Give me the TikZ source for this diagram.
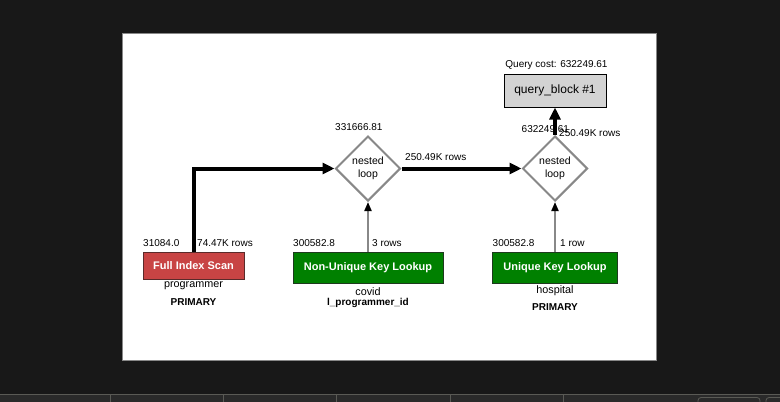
\documentclass[tikz,border=0pt]{standalone}
\usepackage{fontspec}
\setmainfont{Liberation Sans}
\usetikzlibrary{shapes.geometric,arrows.meta}
\definecolor{bgdark}{HTML}{181818}
\definecolor{stripc}{HTML}{2A2A2A}
\definecolor{stripl}{HTML}{5A5A55}
\definecolor{redbox}{HTML}{C84444}
\definecolor{redline}{HTML}{5A2A2A}
\definecolor{greenbox}{HTML}{008000}
\definecolor{greenline}{HTML}{1E3A1E}
\definecolor{qbox}{HTML}{D3D3D3}
\definecolor{loopc}{HTML}{888888}
\tikzset{
  lbl/.style={inner sep=0pt, font=\fontsize{10}{12}\selectfont},
  tbl/.style={inner sep=0pt, font=\fontsize{10.8}{13}\selectfont},
  keyl/.style={inner sep=0pt, font=\fontsize{10}{12}\selectfont\bfseries},
  opbox/.style={draw, line width=1pt, inner sep=0pt, text=white, font=\fontsize{11}{13}\selectfont\bfseries},
  loopnode/.style={diamond, draw=loopc, line width=2pt, fill=white, minimum width=65pt, minimum height=65pt, inner sep=0pt, align=center, font=\fontsize{10.5}{12.5}\selectfont},
  thickarrow/.style={line width=4pt, -{Triangle[length=12pt,width=11pt]}},
  thinarrow/.style={draw=loopc, line width=2pt, -{Triangle[length=9pt,width=7pt,color=black]}}
}
\begin{document}
\begin{tikzpicture}[x=1pt,y=-1pt]
\useasboundingbox (0,0) rectangle (780,402);
\fill[bgdark] (0,0) rectangle (780,402);
% bottom strip
\fill[stripc] (0,394) rectangle (780,402);
\draw[stripl, line width=1pt] (0,394.5) -- (780,394.5);
\foreach \xx in {110.5,223.5,336.5,450.5,563.5}{\draw[stripl, line width=0.8pt] (\xx,394.5) -- (\xx,402);}
\draw[stripl, line width=0.8pt, rounded corners=3pt] (698,402.5) -- (698,397.5) -- (760,397.5) -- (760,402.5);
\draw[stripl, line width=0.8pt, rounded corners=3pt] (766,402.5) -- (766,397.5) -- (781,397.5);
% panel
\fill[white, draw=loopc, line width=1pt] (122.5,33.5) rectangle (656.5,360);

% operation boxes
\node[opbox, fill=redbox, draw=redline, minimum width=101pt, minimum height=27pt] (fis) at (193.5,265.5) {Full Index Scan};
\node[opbox, fill=greenbox, draw=greenline, minimum width=150pt, minimum height=31pt] (nukl) at (368,267.5) {Non-Unique Key Lookup};
\node[opbox, fill=greenbox, draw=greenline, minimum width=125pt, minimum height=31pt] (ukl) at (555,267.5) {Unique Key Lookup};
\node[draw, line width=1pt, fill=qbox, inner sep=0pt, minimum width=102pt, minimum height=33pt, font=\fontsize{12}{14}\selectfont] (qb) at (555,90.5) {query\_block \#1};

% loops
\node[loopnode] (nl1) at (368,168.5) {nested\\loop};
\node[loopnode] (nl2) at (555,168.5) {nested\\loop};

% connectors
\draw[thickarrow] (fis.north) |- (nl1.west);
\draw[thickarrow] (nl1.east) -- (nl2.west);
\draw[thickarrow] (nl2.north) -- (qb.south);
\draw[thinarrow] (nukl.north) -- (nl1.south);
\draw[thinarrow] (ukl.north) -- (nl2.south);

% labels
\node[lbl, anchor=west] (c1) at (143,243) {31084.0};
\node[lbl, anchor=west] (r1) at (197,243) {74.47K rows};
\node[tbl] (t1) at (193.5,286) {programmer};
\node[keyl] (k1) at (193.5,302) {PRIMARY};

\node[lbl, anchor=west] (c2) at (293,243) {300582.8};
\node[lbl, anchor=west] (r2) at (372,243) {3 rows};
\node[tbl] (t2) at (368,292) {covid};
\node[keyl] (k2) at (368,303) {l\_programmer\_id};

\node[lbl, anchor=west] (c3) at (492.5,243) {300582.8};
\node[lbl, anchor=west] (r3) at (560,243) {1 row};
\node[tbl] (t3) at (555,291) {hospital};
\node[keyl] (k3) at (555,307) {PRIMARY};

\node[lbl, anchor=west] (c4) at (335,127) {331666.81};
\node[lbl, anchor=west] (r4) at (405,157) {250.49K rows};
\node[lbl, anchor=west] (c5) at (521.5,129) {632249.61};
\node[lbl, anchor=west] (r5) at (559,133) {250.49K rows};
\node[lbl] (qc) at (556.5,65) {Query cost: 632249.61};
\end{tikzpicture}
\end{document}
